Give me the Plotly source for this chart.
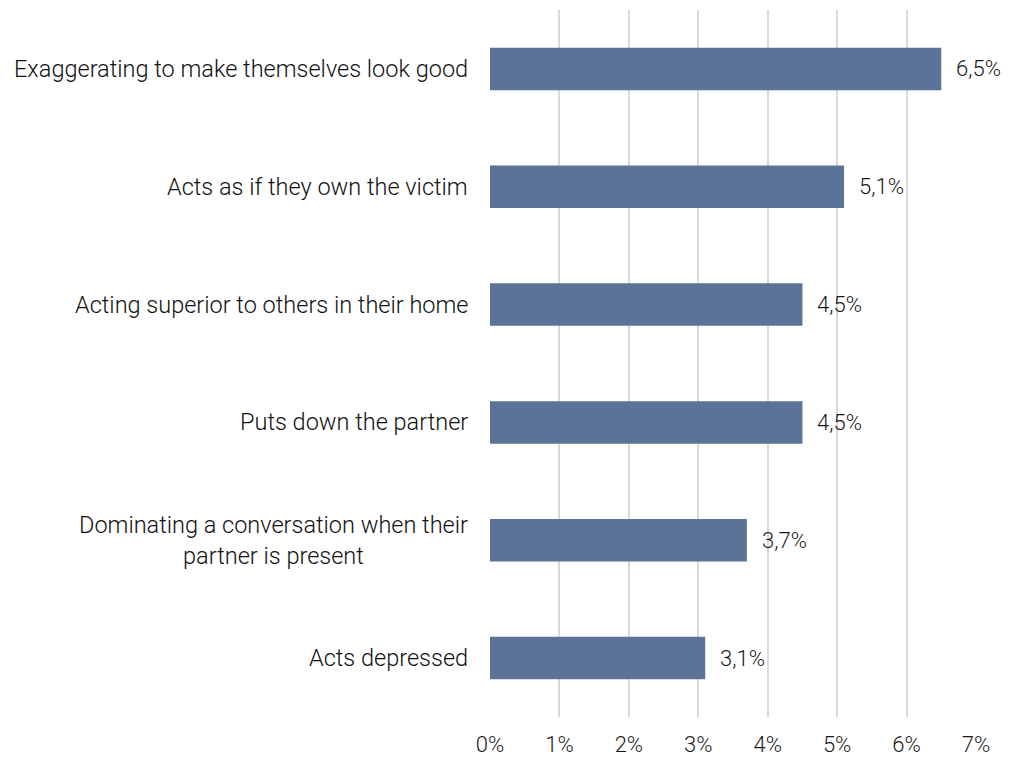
import plotly.graph_objects as go

# Behaviour categories and their shares (percent)
categories = [
    "Exaggerating to make themselves look good",
    "Acts as if they own the victim",
    "Acting superior to others in their home",
    "Puts down the partner",
    "Dominating a conversation when their<br>partner is present",
    "Acts depressed",
]
values = [6.5, 5.1, 4.5, 4.5, 3.7, 3.1]
tick_vals = [0, 1, 2, 3, 4, 5, 6, 7]
tick_text = ["0%", "1%", "2%", "3%", "4%", "5%", "6%", "7%"]

FONT = "Roboto, Lato, sans-serif"
BAR_COLOR = "#5b7399"

fig = go.Figure(
    go.Bar(
        x=values,
        y=categories,
        orientation="h",
        marker=dict(color=BAR_COLOR, line=dict(width=0)),
        hoverinfo="skip",
    )
)

# Value labels next to each bar
for cat, val in zip(categories, values):
    fig.add_annotation(
        x=val, y=cat, xref="x", yref="y",
        text=f"{val:.1f}%".replace(".", ","),
        showarrow=False, xanchor="left", xshift=13,
        font=dict(family=FONT, size=22, weight=300, color="#1a1a1a"),
    )

# Category labels, centred line by line and right-aligned to the axis
for cat in categories:
    fig.add_annotation(
        x=0, y=cat, xref="paper", yref="y",
        text=cat, showarrow=False, xanchor="right", align="center",
        xshift=-20,
        font=dict(family=FONT, size=23.5, weight=300, color="#111111"),
    )

fig.update_layout(
    width=1026,
    height=759,
    margin=dict(l=490, r=50, t=10, b=42),
    paper_bgcolor="white",
    plot_bgcolor="white",
    bargap=0.64,
    showlegend=False,
    font=dict(family=FONT, size=22, color="#1a1a1a"),
    xaxis=dict(
        range=[0, 7],
        tickvals=tick_vals,
        ticktext=tick_text,
        showgrid=True,
        gridcolor="#d9d9d9",
        gridwidth=2,
        zeroline=False,
        showline=False,
        ticks="",
        ticklabelstandoff=12,
        automargin=False,
        tickfont=dict(family=FONT, size=22, weight=300, color="#1a1a1a"),
        fixedrange=True,
    ),
    yaxis=dict(
        categoryorder="array",
        categoryarray=categories[::-1],
        showticklabels=False,
        showgrid=False,
        zeroline=False,
        showline=False,
        ticks="",
        automargin=False,
        fixedrange=True,
    ),
)

fig.write_html("out.html")
